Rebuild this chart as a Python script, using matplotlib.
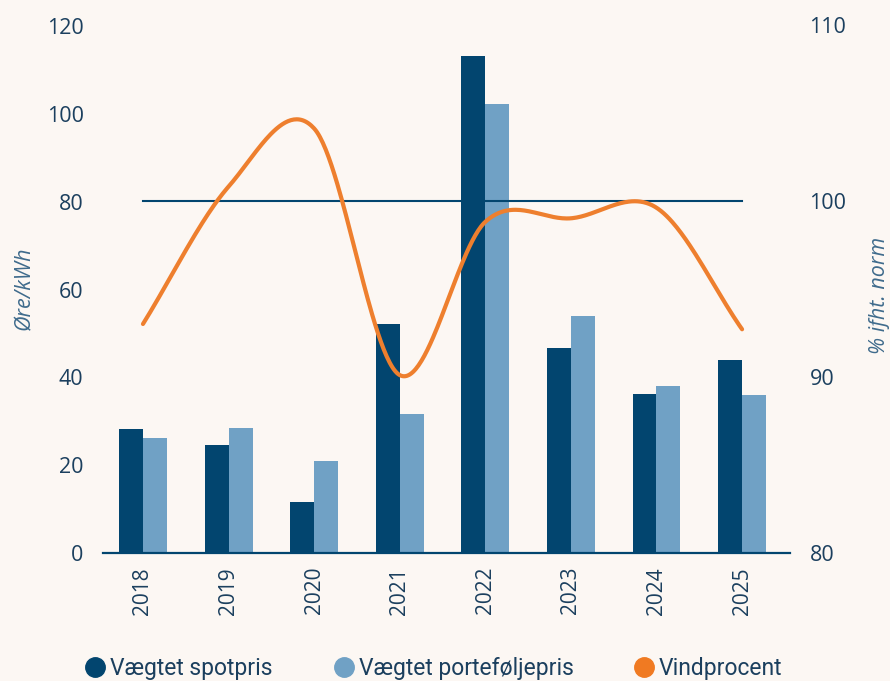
import numpy as np
import matplotlib
matplotlib.use("Agg")
import matplotlib.pyplot as plt
from matplotlib.lines import Line2D

years = ["2018", "2019", "2020", "2021", "2022", "2023", "2024", "2025"]
spotpris = [28.2, 24.6, 11.6, 52.2, 113.2, 46.7, 36.2, 44.0]
portefoljepris = [26.2, 28.5, 21.0, 31.7, 102.3, 54.0, 38.0, 36.0]
vindprocent = [93.0, 100.8, 104.1, 90.1, 98.8, 99.0, 99.6, 92.7]
norm_level = 100

BG = "#FCF7F3"
NAVY = "#02456F"
LIGHT = "#70A1C5"
ORANGE = "#EE7F2E"
TXT = "#1B3F5E"
LBL = "#3F6B8C"

fig = plt.figure(figsize=(8.9, 6.81), dpi=100, facecolor=BG)
ax = fig.add_axes([103/890, 1-553/681, (790-103)/890, (553-21)/681])
ax.set_facecolor(BG)
ax2 = ax.twinx()

x = np.arange(len(years))
w = 0.28
ax.bar(x - w/2, spotpris, width=w, color=NAVY, zorder=2)
ax.bar(x + w/2, portefoljepris, width=w, color=LIGHT, zorder=2)

ax.set_xlim(-0.467, 7.56)
ax.set_ylim(0, 121.2)
ax.set_yticks([0, 20, 40, 60, 80, 100, 120])
ax.set_xticks(x)
ax.set_xticklabels(years, rotation=90, fontsize=15, color=TXT, family="Open Sans")
for lab in ax.get_yticklabels():
    lab.set_fontsize(15.5); lab.set_color(TXT); lab.set_family("Open Sans")
ax.tick_params(axis="both", length=0)
ax.tick_params(axis="y", pad=14)
ax.tick_params(axis="x", pad=10)
for s in ["top", "right", "left"]:
    ax.spines[s].set_visible(False)
ax.spines["bottom"].set_color(NAVY)
ax.spines["bottom"].set_linewidth(1.6)
ax.spines["bottom"].set_zorder(3)
ax.set_ylabel("Øre/kWh", fontsize=15.5, color=LBL, style="italic", family="Open Sans")
ax.yaxis.set_label_coords((35-103)/687, (553-288)/532)

# right axis
ax2.set_ylim(80, 110.2)
ax2.set_yticks([80, 90, 100, 110])
for lab in ax2.get_yticklabels():
    lab.set_fontsize(15.5); lab.set_color(TXT); lab.set_family("Open Sans")
ax2.tick_params(axis="y", length=0, pad=14)
for s in ax2.spines.values():
    s.set_visible(False)
ax2.set_ylabel("% ifht. norm", fontsize=15.5, color=LBL, style="italic", family="Open Sans",
               rotation=90)
ax2.yaxis.set_label_coords((869-103)/687, (553-295)/532)

ax2.plot([x[0], x[-1]], [norm_level, norm_level], color=NAVY, lw=1.5, zorder=3)

# Catmull-Rom style smoothing (cubic Hermite with central-difference tangents)
yv = np.array(vindprocent, dtype=float)
n = len(yv)
m = np.zeros(n)
m[0] = yv[1] - yv[0]
m[-1] = yv[-1] - yv[-2]
for i in range(1, n-1):
    m[i] = (yv[i+1] - yv[i-1]) / 2
xs, ys = [], []
for i in range(n-1):
    t = np.linspace(0, 1, 60)
    h00 = 2*t**3 - 3*t**2 + 1
    h10 = t**3 - 2*t**2 + t
    h01 = -2*t**3 + 3*t**2
    h11 = t**3 - t**2
    xs.append(x[i] + t)
    ys.append(h00*yv[i] + h10*m[i] + h01*yv[i+1] + h11*m[i+1])
ax2.plot(np.concatenate(xs), np.concatenate(ys), color=ORANGE, lw=3, solid_capstyle="round", zorder=4)

handles = [
    Line2D([], [], marker="o", ls="", markersize=14, color=NAVY),
    Line2D([], [], marker="o", ls="", markersize=14, color=LIGHT),
    Line2D([], [], marker="o", ls="", markersize=14, color="#F07A22"),
]
labels = ["Vægtet spotpris", "Vægtet porteføljepris", "Vindprocent"]
leg = fig.legend(handles, labels, loc="center", bbox_to_anchor=(435/890, 1-669/681), ncol=3,
                 frameon=False, handlelength=0.7, handletextpad=0.3, columnspacing=2.74,
                 prop={"family": "Roboto", "size": 16.5})
for t in leg.get_texts():
    t.set_color(TXT)

fig.savefig("out.png", dpi=100, facecolor=BG)
